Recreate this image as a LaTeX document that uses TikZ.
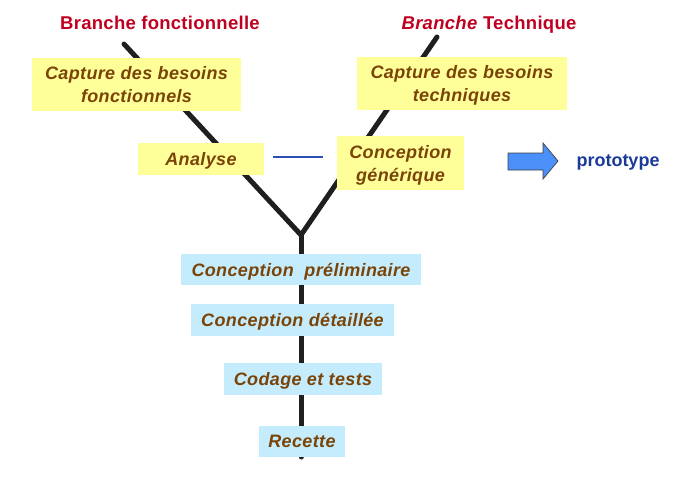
\documentclass[tikz,border=0pt]{standalone}
\usepackage{fontspec}
\setmainfont{Liberation Sans}
\definecolor{ttlred}{HTML}{C00020}
\definecolor{brn}{HTML}{7A4408}
\definecolor{ylw}{HTML}{FFFF99}
\definecolor{lblu}{HTML}{C4ECFC}
\definecolor{arrblue}{HTML}{4A90F8}
\definecolor{protoblue}{HTML}{1A3A9A}
\definecolor{lineblue}{HTML}{2A50B8}
\begin{document}
\begin{tikzpicture}[x=1pt,y=-1pt,
  stepbox/.style={rectangle,inner sep=0pt,text depth=0pt,font=\fontsize{18}{23}\selectfont\addfontfeatures{LetterSpace=2}\bfseries\itshape,text=brn,align=center},
  ybox/.style={stepbox,fill=ylw},
  bbox/.style={stepbox,fill=lblu},
  trunk/.style={line width=5pt,black!88,line cap=round},
  title/.style={anchor=base,font=\fontsize{18.5}{22}\selectfont\addfontfeatures{LetterSpace=1.5}\bfseries,text=ttlred}]
\useasboundingbox (0,0) rectangle (679,499);
\coordinate (ltop) at (124,44);
\coordinate (rtop) at (437,37);
\coordinate (jn) at (301,235);
\coordinate (bot) at (301,457);
\draw[trunk] (ltop) -- (jn) -- (rtop);
\draw[trunk] (jn) -- (bot);
\node[title] (tf) at (160,29.5) {Branche fonctionnelle};
\node[title] (tt) at (489,29.5) {\textit{Branche} Technique};
\node[ybox,minimum width=209pt,minimum height=53pt] (cbf) at (136.5,84.5) {Capture des besoins\\ fonctionnels};
\node[ybox,minimum width=210pt,minimum height=53pt] (cbt) at (462,83.5) {Capture des besoins\\ techniques};
\node[ybox,minimum width=126pt,minimum height=32pt] (ana) at (201,159) {Analyse};
\node[ybox,minimum width=127pt,minimum height=54pt] (gen) at (400.5,163) {Conception\\ générique};
\coordinate (bl1) at (273,157);
\coordinate (bl2) at (323,157);
\draw[lineblue,line width=1.3pt] (bl1) -- (bl2);
\draw[black!75,fill=arrblue,line width=0.7pt,line join=miter] (508,153) -- (543,153) -- (543,143) -- (558,161) -- (543,179) -- (543,170) -- (508,170) -- cycle;
\node[anchor=base,font=\fontsize{18}{22}\selectfont\bfseries,text=protoblue] (proto) at (618,166.5) {prototype};
\node[bbox,minimum width=240pt,minimum height=31pt] (cp) at (301,269.5) {Conception\ \ préliminaire};
\node[bbox,minimum width=203pt,minimum height=32pt] (cd) at (292.5,320) {Conception détaillée};
\node[bbox,minimum width=158pt,minimum height=32pt] (ct) at (303,379) {Codage et tests};
\node[bbox,minimum width=86pt,minimum height=31pt] (rec) at (302,441.5) {Recette};
\end{tikzpicture}
\end{document}
